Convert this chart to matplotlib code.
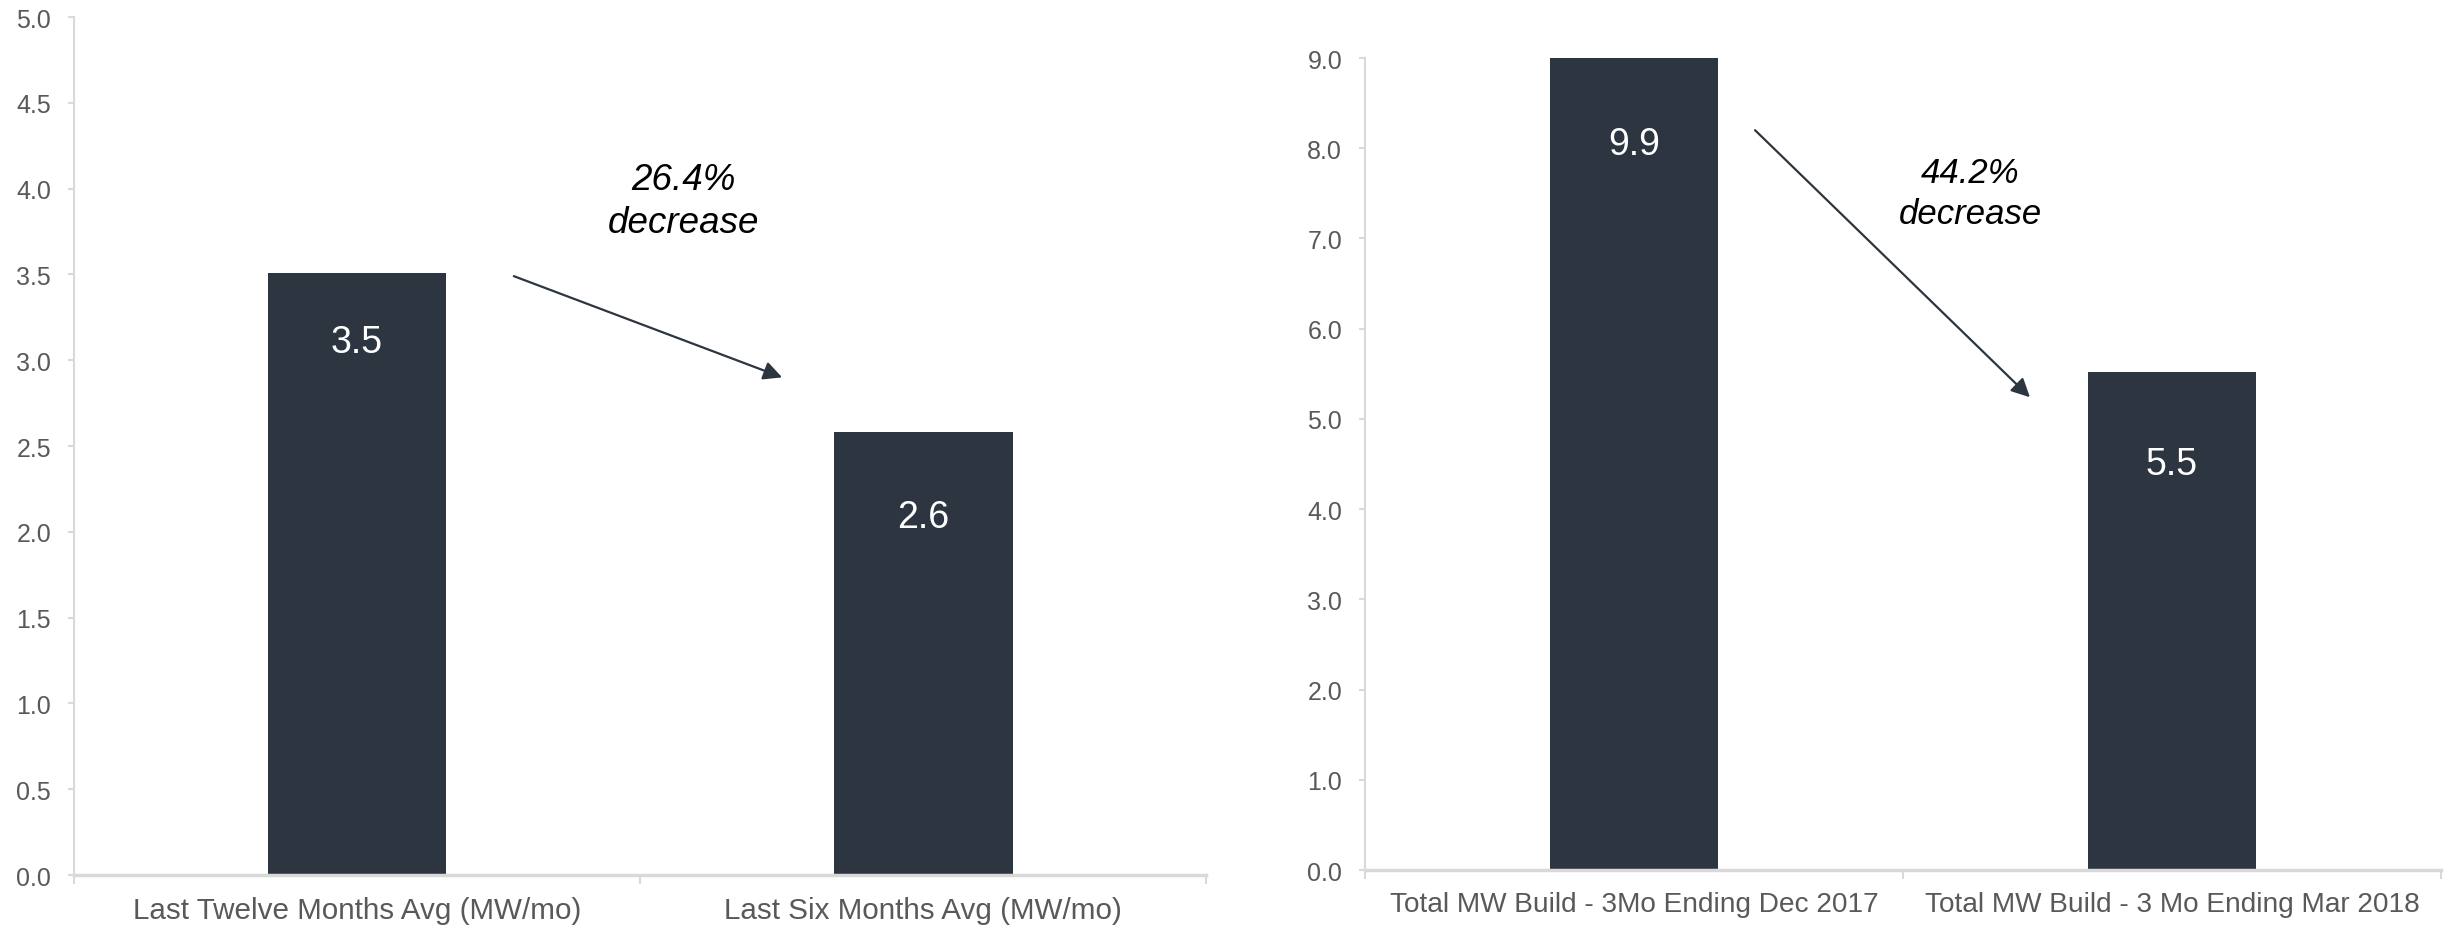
import numpy as np
import matplotlib
matplotlib.use('Agg')
import matplotlib.pyplot as plt
from matplotlib.ticker import FixedLocator, FormatStrFormatter

plt.rcParams['font.family'] = ['Liberation Sans', 'DejaVu Sans']

# Left chart data
left_labels = ['Last Twelve Months Avg (MW/mo)', 'Last Six Months Avg (MW/mo)']
left_values = [3.51, 2.58]
left_change = '26.4%\ndecrease'

# Right chart data
right_labels = ['Total MW Build - 3Mo Ending Dec 2017', 'Total MW Build - 3 Mo Ending Mar 2018']
right_values = [9.9, 5.52]
right_change = '44.2%\ndecrease'

bar_color = '#2d3540'
grid_grey = '#d9d9d9'
text_grey = '#595959'


def style_axis(ax, labels, ymax, ystep, xsize):
    ax.set_xlim(-0.5, 1.5)
    ax.set_ylim(0, ymax)
    ax.set_yticks(np.arange(0, ymax + ystep / 2, ystep))
    ax.yaxis.set_major_formatter(FormatStrFormatter('%.1f'))
    ax.set_xticks(range(len(labels)))
    ax.set_xticklabels(labels)
    ax.xaxis.set_minor_locator(FixedLocator([-0.5, 0.5, 1.5]))
    for s in ['top', 'right']:
        ax.spines[s].set_visible(False)
    ax.spines['left'].set_color(grid_grey)
    ax.spines['left'].set_linewidth(1.5)
    ax.spines['bottom'].set_color(grid_grey)
    ax.spines['bottom'].set_linewidth(2.5)
    ax.tick_params(axis='y', colors=grid_grey, labelcolor=text_grey,
                   labelsize=18, length=4.5, width=1.5, pad=12)
    ax.tick_params(axis='x', which='major', length=0, labelcolor=text_grey,
                   labelsize=xsize, pad=15)
    ax.tick_params(axis='x', which='minor', length=6.5, width=1.5,
                   color=grid_grey, direction='out')


def value_labels(ax, values, ymax, offsets):
    for i, v in enumerate(values):
        top = min(v, ymax)
        ax.annotate(f'{v:.1f}', xy=(i, top), xytext=(0, offsets[i]),
                    textcoords='offset points', ha='center', va='center',
                    color='white', fontsize=27)


fig = plt.figure(figsize=(24.49, 9.28), dpi=100)

# Left chart
ax1 = fig.add_axes([0.0302, 0.056, 0.4623, 0.9246])
ax1.bar(range(len(left_values)), left_values, width=0.316, color=bar_color)
style_axis(ax1, left_labels, 5.0, 0.5, 21.3)
value_labels(ax1, left_values, 5.0, [-50, -61])
ax1.annotate('', xy=(0.751, 2.90), xytext=(0.277, 3.49),
             arrowprops=dict(arrowstyle='-|>', color=bar_color, lw=1.6,
                             mutation_scale=28, shrinkA=0, shrinkB=0))
ax1.text(0.576, 3.93, left_change, ha='center', va='center', fontsize=26.5,
         style='italic', color='black', linespacing=1.3)

# Right chart
ax2 = fig.add_axes([0.5574, 0.0614, 0.4393, 0.8750])
ax2.bar(range(len(right_values)), right_values, width=0.314, color=bar_color)
style_axis(ax2, right_labels, 9.0, 1.0, 20.2)
value_labels(ax2, right_values, 9.0, [-62, -66])
ax2.annotate('', xy=(0.736, 5.24), xytext=(0.225, 8.20),
             arrowprops=dict(arrowstyle='-|>', color=bar_color, lw=1.6,
                             mutation_scale=28, shrinkA=0, shrinkB=0))
ax2.text(0.625, 7.50, right_change, ha='center', va='center', fontsize=25,
         style='italic', color='black', linespacing=1.3)

fig.savefig('out.png', dpi=100)
